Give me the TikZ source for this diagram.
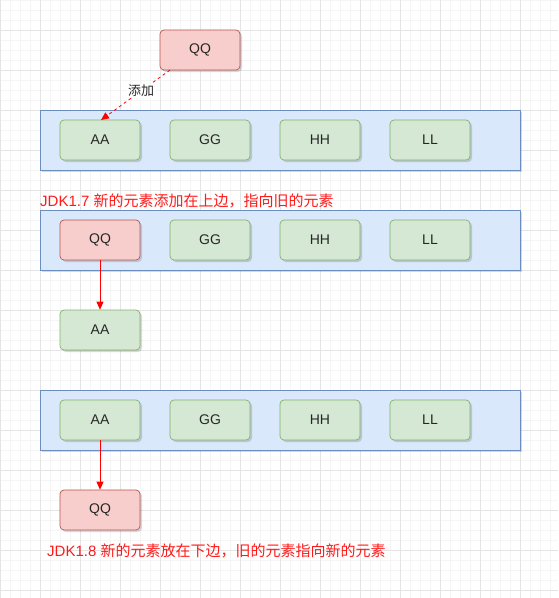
\documentclass[tikz,border=0pt]{standalone}
\usepackage{fontspec}
\setmainfont{Liberation Sans}
\newfontfamily\cjk{Noto Sans CJK SC}
\usetikzlibrary{shadows,arrows.meta}
\definecolor{rfill}{HTML}{F8CECC}
\definecolor{rline}{HTML}{B85450}
\definecolor{gfill}{HTML}{D5E8D4}
\definecolor{gline}{HTML}{82B366}
\definecolor{bfill}{HTML}{DAE8FC}
\definecolor{bline}{HTML}{6C8EBF}
\definecolor{minorgrid}{HTML}{F5F5F5}
\definecolor{majorgrid}{HTML}{E4E4E4}
\definecolor{txtred}{HTML}{FF1A1A}
\tikzset{
  box/.style={rounded corners=4pt, minimum width=80pt, minimum height=40pt, inner sep=0pt, font=\fontsize{14}{16}\selectfont, text=black!85, line width=0.7pt,
    drop shadow={shadow xshift=2pt, shadow yshift=-2pt, opacity=0.15, fill=black}},
  redbox/.style={box, fill=rfill, draw=rline},
  greenbox/.style={box, fill=gfill, draw=gline},
  container/.style={fill=bfill, draw=bline, line width=0.7pt, minimum width=480pt, minimum height=60pt, inner sep=0pt,
    drop shadow={shadow xshift=2pt, shadow yshift=-2pt, opacity=0.15, fill=black}},
  link/.style={draw=red, line width=0.8pt, -{Triangle[length=8pt,width=7pt]}},
  note/.style={text=txtred, font=\fontsize{15}{17}\selectfont, inner sep=0pt, anchor=west}
}
\begin{document}
\begin{tikzpicture}[x=1pt,y=-1pt]
\useasboundingbox (0,0) rectangle (558,598);
\fill[white] (0,0) rectangle (558,598);
% grid
\foreach \i in {0,10,...,550} \draw[minorgrid, line width=0.6pt] (\i,0) -- (\i,598);
\foreach \j in {0,10,...,590} \draw[minorgrid, line width=0.6pt] (0,\j) -- (558,\j);
\foreach \i in {0,40,...,550} \draw[majorgrid, line width=0.6pt] (\i,0) -- (\i,598);
\foreach \j in {30,70,...,590} \draw[majorgrid, line width=0.6pt] (0,\j) -- (558,\j);

% top
\node[redbox] (qq0) at (200,50) {QQ};
\node[container] (c1) at (280,140) {};
\node[greenbox] (aa1) at (100,140) {AA};
\node[greenbox] (gg1) at (210,140) {GG};
\node[greenbox] (hh1) at (320,140) {HH};
\node[greenbox] (ll1) at (430,140) {LL};
\coordinate (qqs) at (170,70);
\coordinate (aat) at (101,120);
\draw[link, dash pattern=on 3pt off 3pt] (qqs) -- (aat)
  node[pos=0.42, fill=white, inner sep=1.5pt, font=\cjk\fontsize{13}{15}\selectfont, text=black!85] (lab) {添加};

% JDK1.7
\node[note] (t17) at (40,201) {JDK1.7 {\cjk 新的元素添加在上边，指向旧的元素}};
\node[container] (c2) at (280,240) {};
\node[redbox] (qq2) at (100,240) {QQ};
\node[greenbox] (gg2) at (210,240) {GG};
\node[greenbox] (hh2) at (320,240) {HH};
\node[greenbox] (ll2) at (430,240) {LL};
\node[greenbox] (aa2) at (100,330) {AA};
\draw[link] (qq2) -- (aa2);

% JDK1.8
\node[container] (c3) at (280,420) {};
\node[greenbox] (aa3) at (100,420) {AA};
\node[greenbox] (gg3) at (210,420) {GG};
\node[greenbox] (hh3) at (320,420) {HH};
\node[greenbox] (ll3) at (430,420) {LL};
\node[redbox] (qq3) at (100,510) {QQ};
\draw[link] (aa3) -- (qq3);
\node[note] (t18) at (47,551) {JDK1.8 {\cjk 新的元素放在下边，旧的元素指向新的元素}};
\end{tikzpicture}
\end{document}
